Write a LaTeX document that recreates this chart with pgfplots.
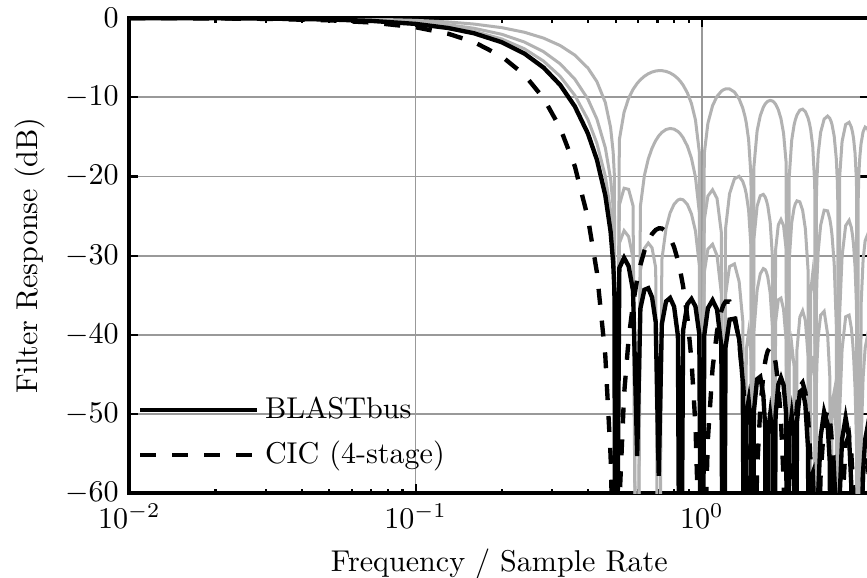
\documentclass[border=0pt]{standalone}
\usepackage{pgfplots}
\usepackage{pgfplotstable}
\pgfplotsset{compat=1.18}

% f, stage 1, stages 1-2, stages 1-3, BLASTbus (all four), CIC (4-stage); -99 = null
\pgfplotstableread{
f        g1       g2       g3       bb       cic
0.01     -0.003   -0.005   -0.006   -0.007   -0.011
0.02     -0.011   -0.020   -0.025   -0.029   -0.046
0.03     -0.026   -0.044   -0.057   -0.066   -0.103
0.05     -0.071   -0.122   -0.158   -0.183   -0.286
0.07     -0.140   -0.239   -0.309   -0.358   -0.561
0.10     -0.290   -0.494   -0.637   -0.739   -1.158
0.13     -0.494   -0.841   -1.085   -1.257   -1.977
0.16     -0.758   -1.288   -1.660   -1.922   -3.032
0.20     -1.210   -2.051   -2.638   -3.050   -4.840
0.24     -1.793   -3.026   -3.883   -4.481   -7.170
0.28     -2.531   -4.250   -5.434   -6.258   -10.124
0.32     -3.468   -5.780   -7.356   -8.445   -13.870
0.36     -4.677   -7.712   -9.754   -11.152  -18.708
0.40     -6.310   -10.233  -12.824  -14.581  -25.241
0.43     -8.025   -12.757  -15.824  -17.886  -32.098
0.46     -10.653  -16.362  -19.971  -22.371  -42.611
0.48     -13.814  -20.303  -24.316  -26.961  -55.254
0.49     -16.905  -23.835  -28.066  -30.840  -67.62
0.495    -19.957  -27.123  -31.466  -34.307  -79.83
0.5      -99      -99      -99      -99      -99
0.515    -15.364  -23.604  -28.428  -31.548  -61.46
0.535    -11.878  -21.481  -26.839  -30.258  -47.51
0.555    -10.126  -21.624  -27.583  -31.323  -40.50
0.575    -9.009   -23.689  -30.331  -34.421  -36.04
0.594604 -8.243   -99      -99      -55.3    -32.97
0.61     -7.791   -23.775  -31.894  -36.666  -31.16
0.63     -7.348   -19.878  -29.087  -34.299  -29.39
0.65     -7.031   -17.793  -28.404  -34.101  -28.12
0.67     -6.816   -16.421  -29.008  -35.242  -27.26
0.69     -6.686   -15.466  -31.527  -38.362  -26.74
0.707107 -6.637   -14.880  -99      -57.8    -26.55
0.725    -6.639   -14.440  -30.521  -38.623  -26.56
0.75     -6.733   -14.068  -26.522  -35.773  -26.93
0.775    -6.929   -13.939  -24.586  -35.334  -27.72
0.80     -7.231   -14.025  -23.502  -36.433  -28.92
0.825    -7.647   -14.319  -22.971  -40.126  -30.59
0.840896 -7.980   -14.617  -22.860  -99      -31.92
0.86     -8.459   -15.096  -22.938  -39.476  -33.84
0.89     -9.432   -16.156  -23.518  -36.125  -37.73
0.92     -10.792  -17.708  -24.733  -35.458  -43.17
0.95     -12.859  -20.073  -26.876  -36.395  -51.44
0.98     -16.913  -24.544  -31.219  -39.897  -67.65
1.0      -99      -99      -99      -99      -99
1.02     -17.087  -25.484  -32.119  -40.004  -68.35
1.05     -13.294  -22.469  -29.164  -36.624  -53.18
1.09     -11.066  -21.678  -28.559  -35.616  -44.26
1.13     -9.886   -22.765  -29.982  -36.783  -39.54
1.17     -9.237   -27.092  -34.785  -41.450  -36.95
1.189207 -9.060   -99      -99      -99      -36.24
1.21     -8.949   -26.606  -34.947  -41.580  -35.80
1.25     -8.951   -22.160  -31.369  -38.066  -35.80
1.30     -9.339   -20.286  -31.038  -37.948  -37.36
1.35     -10.205  -19.982  -33.270  -40.541  -40.82
1.39     -11.368  -20.618  -38.216  -45.893  -45.47
1.414214 -12.385  -21.444  -99      -99      -49.54
1.43     -13.243  -22.223  -41.797  -50.001  -52.97
1.457    -15.354  -24.270  -39.618  -48.258  -61.42
1.485    -19.963  -28.911  -42.201  -51.378  -79.85
1.5      -99      -99      -99      -99      -99
1.52     -18.819  -27.936  -39.672  -49.670  -75.28
1.56     -14.253  -23.750  -34.355  -45.584  -57.01
1.60     -12.331  -22.434  -32.292  -45.278  -49.32
1.64     -11.262  -22.260  -31.626  -47.581  -45.05
1.665    -10.847  -22.601  -31.762  -51.728  -43.39
1.681793 -10.652  -23.036  -32.096  -99      -42.61
1.70     -10.505  -23.720  -32.702  -52.407  -42.02
1.733    -10.396  -25.776  -34.693  -50.014  -41.58
1.765    -10.469  -30.200  -39.145  -52.484  -41.88
1.783811 -10.596  -99      -99      -99      -42.38
1.81     -10.875  -29.285  -38.415  -50.082  -43.50
1.85     -11.574  -26.127  -35.573  -46.276  -46.30
1.89     -12.703  -25.437  -35.354  -45.381  -50.81
1.93     -14.546  -26.193  -36.768  -46.317  -58.18
1.97     -18.200  -29.170  -40.650  -49.872  -72.80
2.0      -99      -99      -99      -99      -99
2.02     -20.055  -30.568  -43.716  -52.702  -80.22
2.06     -15.461  -25.855  -41.172  -50.089  -61.84
2.10     -13.512  -23.984  -43.926  -52.873  -54.05
2.121320 -12.857  -23.452  -99      -99      -51.43
2.15     -12.226  -23.075  -41.835  -50.954  -48.90
2.20     -11.624  -23.197  -37.754  -47.199  -46.50
2.25     -11.504  -24.280  -36.947  -46.892  -46.02
2.30     -11.817  -26.617  -38.181  -48.835  -47.27
2.35     -12.613  -31.804  -42.698  -54.343  -50.45
2.378414 -13.346  -99      -99      -99      -53.38
2.40     -14.092  -34.562  -45.087  -58.157  -56.37
2.44     -16.196  -32.256  -42.659  -57.431  -64.78
2.48     -20.946  -35.033  -45.456  -63.115  -83.78
2.5      -99      -99      -99      -99      -99
2.511    -23.589  -36.724  -47.256  -70.6    -94.36
2.522689 -20.476  -33.332  -43.928  -99      -81.90
2.55     -17.147  -29.481  -40.270  -59.980  -68.59
2.60     -14.440  -26.176  -37.512  -52.844  -57.76
2.675    -12.756  -24.258  -37.016  -49.700  -51.02
2.75     -12.375  -24.342  -39.880  -51.242  -49.50
2.80     -12.672  -25.385  -45.332  -56.180  -50.69
2.828427 -13.047  -26.393  -99      -99      -52.19
2.85     -13.450  -27.411  -48.627  -59.169  -53.80
2.90     -14.914  -31.015  -47.167  -57.571  -59.66
2.95     -17.780  -38.868  -52.934  -63.358  -71.12
2.973018 -20.442  -99      -99      -99      -81.77
2.986    -23.296  -46.9    -60.1    -70.6    -93.2
3.0      -99      -99      -99      -99      -99
3.03     -20.069  -37.398  -49.766  -60.539  -80.28
3.09     -15.592  -30.091  -41.841  -53.154  -62.37
3.18     -13.440  -26.209  -37.711  -50.444  -53.76
3.27     -13.163  -25.537  -37.502  -53.025  -52.65
3.33     -13.779  -26.453  -39.170  -59.145  -55.12
3.363586 -14.466  -27.513  -40.859  -99      -57.86
3.39     -15.240  -28.704  -42.685  -63.776  -60.96
3.43     -17.043  -31.399  -46.680  -63.855  -68.17
3.47     -20.658  -36.363  -53.668  -68.9    -82.63
3.5      -99      -99      -99      -99      -99
3.518    -22.920  -41.476  -64.45   -80      -91.7
3.535534 -20.019  -40.460  -99      -99      -80.08
3.552    -18.427  -42.000  -65.3    -80      -73.7
3.567621 -17.358  -99      -99      -99      -69.43
3.60     -15.853  -36.334  -53.866  -66.3    -63.41
3.66     -14.352  -30.508  -45.418  -57.261  -57.41
3.72     -13.765  -28.122  -41.665  -53.221  -55.06
3.80     -13.998  -27.286  -39.910  -51.440  -55.99
3.86     -14.980  -28.077  -40.450  -52.217  -59.92
}\filt

\begin{document}
\begin{tikzpicture}
\begin{axis}[
    scale only axis,
    width=246pt, height=158pt,
    xmode=log,
    xmin=0.01, xmax=3.85,
    ymin=-60, ymax=0,
    xtick={0.01,0.1,1},
    ytick={-60,-50,...,0},
    grid=major,
    major grid style={gray!80, line width=0.6pt},
    tick align=inside,
    major tick length=3pt, minor tick length=1.6pt,
    tick style={black, line width=0.7pt},
    axis line style={line width=1.3pt},
    xlabel={Frequency / Sample Rate},
    ylabel={Filter Response (dB)},
    legend style={draw=none, fill=none, at={(-0.001,0.026)}, anchor=south west, row sep=2pt},
    legend cell align=left,
    legend image code/.code={\draw[#1] (0pt,0pt) -- (33.7pt,0pt); \path (0pt,0pt) -- (38.7pt,0pt);},
]
\addplot[black!30, line width=1pt, forget plot] table[x=f, y=g1] {\filt};
\addplot[black!30, line width=1pt, forget plot] table[x=f, y=g2] {\filt};
\addplot[black!30, line width=1pt, forget plot] table[x=f, y=g3] {\filt};
\addplot[black, line width=1.45pt] table[x=f, y=bb] {\filt};
\addlegendentry{BLASTbus}
\addplot[black, line width=1.45pt, dash pattern=on 5.3pt off 5.3pt] table[x=f, y=cic] {\filt};
\addlegendentry{CIC (4-stage)}
\end{axis}
\pgfresetboundingbox
\path[use as bounding box] ([xshift=-43pt,yshift=-28pt]current axis.south west)
    rectangle ([xshift=-0.8pt,yshift=6pt]current axis.north east);
\end{tikzpicture}
\end{document}
